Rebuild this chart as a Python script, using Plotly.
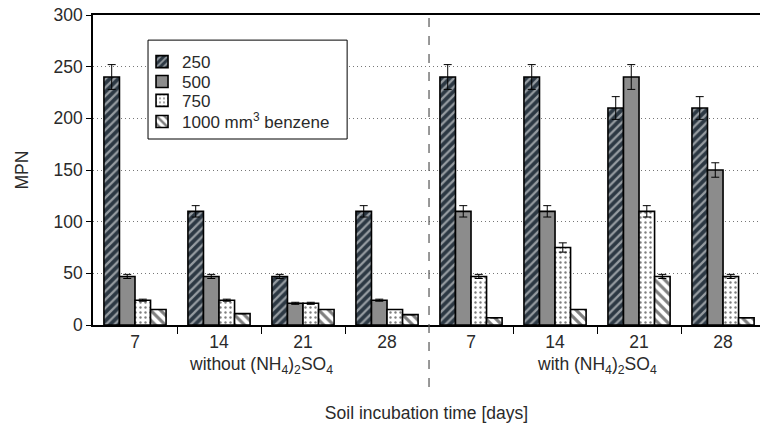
import plotly.graph_objects as go

# Incubation days per group (first four without, last four with ammonium sulphate)
days = ["7", "14", "21", "28", "7", "14", "21", "28"]
group_pos = [0, 1, 2, 3, 4, 5, 6, 7]

# MPN per benzene dose
mpn_250 = [240, 110, 47, 110, 240, 240, 210, 210]
mpn_500 = [47, 47, 21, 24, 110, 110, 240, 150]
mpn_750 = [24, 24, 21, 15, 47, 75, 110, 47]
mpn_1000 = [15, 11, 15, 10, 7, 15, 47, 7]

# Error bar half-widths
err_250 = [12, 5.5, 2, 5.5, 12, 12, 11, 11]
err_500 = [2, 2, 1, 1, 5.5, 5.5, 12, 7]
err_750 = [1, 1, 1, 0, 2, 4.5, 5.5, 2]
err_1000 = [0, 0, 0, 0, 0, 0, 2, 0]

series_names = ["250", "500", "750", "1000 mm<sup>3</sup> benzene"]

FONT = "Liberation Sans, Arial, sans-serif"
TXT = "#2a2a2a"
FS = 17.5

def err(vals):
    return dict(type="data", array=vals, visible=True, color="black",
                thickness=1, width=4)

outline = dict(color="black", width=1.6)

fig = go.Figure()
fig.add_bar(
    x=group_pos, y=mpn_250, name=series_names[0], error_y=err(err_250), legend="legend",
    marker=dict(color="#2c3843", line=outline,
                pattern=dict(shape="/", bgcolor="#2c3843", fgcolor="white",
                             size=6, solidity=0.38, fillmode="overlay")),
)
fig.add_bar(
    x=group_pos, y=mpn_500, name=series_names[1], error_y=err(err_500), legend="legend2",
    marker=dict(color="#8c8c8c", line=outline),
)
fig.add_bar(
    x=group_pos, y=mpn_750, name=series_names[2], error_y=err(err_750), legend="legend3",
    marker=dict(color="white", line=outline,
                pattern=dict(shape=".", bgcolor="white", fgcolor="black",
                             size=5, solidity=0.18, fillmode="overlay")),
)
fig.add_bar(
    x=group_pos, y=mpn_1000, name=series_names[3], error_y=err(err_1000), legend="legend4",
    marker=dict(color="white", line=outline,
                pattern=dict(shape="\\", bgcolor="white", fgcolor="black",
                             size=7, solidity=0.45, fillmode="overlay")),
)

# Divider between the two treatments
fig.add_shape(type="line", xref="x", yref="paper", x0=3.5, x1=3.5, y0=-0.2, y1=1,
              line=dict(color="#555555", width=1.2, dash="dash"))

# Frame around the key
fig.add_shape(type="rect", xref="paper", yref="paper", x0=0.0825, x1=0.381,
              y0=0.6, y1=0.919, line=dict(color="black", width=1),
              fillcolor="white", layer="above")

fig.add_annotation(x=1.5, xref="x", y=-0.088, yref="paper", yanchor="top",
                   text="without (NH<sub>4</sub>)<sub>2</sub>SO<sub>4</sub>",
                   showarrow=False, font=dict(family=FONT, size=FS, color=TXT))
fig.add_annotation(x=5.5, xref="x", y=-0.088, yref="paper", yanchor="top",
                   text="with (NH<sub>4</sub>)<sub>2</sub>SO<sub>4</sub>",
                   showarrow=False, font=dict(family=FONT, size=FS, color=TXT))

def key(y):
    return dict(x=0.0735, y=y, xanchor="left", yanchor="middle",
                bgcolor="rgba(0,0,0,0)", borderwidth=0,
                font=dict(family=FONT, size=17, color=TXT), itemwidth=30)

fig.update_layout(
    width=760, height=423,
    margin=dict(l=93, r=0, t=15, b=98),
    paper_bgcolor="white", plot_bgcolor="white",
    barmode="group", bargap=0.26, bargroupgap=0,
    font=dict(family=FONT, size=FS, color=TXT),
    showlegend=True,
    legend=key(0.848), legend2=key(0.784), legend3=key(0.723), legend4=key(0.655),
    xaxis=dict(
        range=[-0.5, 7.44], tickmode="array", tickvals=group_pos, ticktext=days,
        ticks="", showline=True, linecolor="black", linewidth=1.5, mirror=True,
        showgrid=False, zeroline=False,
        minor=dict(tickmode="array", tickvals=[0.5, 1.5, 2.5, 4.5, 5.5, 6.5],
                   ticks="outside", ticklen=7, tickcolor="black", tickwidth=1.2),
        title=dict(text="Soil incubation time [days]", standoff=56,
                   font=dict(family=FONT, size=FS, color=TXT)),
    ),
    yaxis=dict(
        range=[0, 300], tickvals=[0, 50, 100, 150, 200, 250, 300],
        ticks="outside", ticklen=5, tickcolor="black", tickwidth=1.2,
        showline=True, linecolor="black", linewidth=1.5,
        showgrid=True, gridcolor="#777777", griddash="1px,3px", gridwidth=1,
        zeroline=False,
        title=dict(text="MPN", standoff=20, font=dict(family=FONT, size=FS, color=TXT)),
    ),
)

fig.write_html("out.html")
